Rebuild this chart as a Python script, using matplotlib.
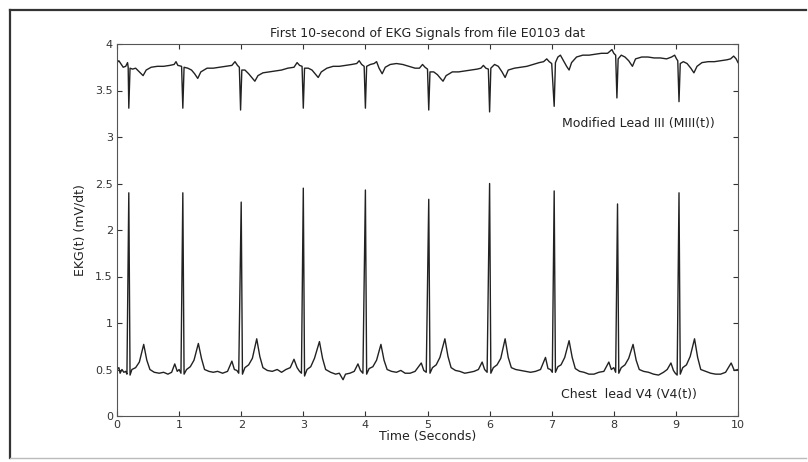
import matplotlib
matplotlib.use("Agg")
import matplotlib.pyplot as plt
from matplotlib.lines import Line2D

plt.rcParams['font.family'] = ['DejaVu Sans']

# Chest lead V4 (time s, mV)
v4_t = [0.00, 0.03, 0.05, 0.08, 0.11, 0.14, 0.16, 0.19, 0.21, 0.24, 0.30, 0.36, 0.43, 0.48, 0.53,
        0.60, 0.68, 0.75, 0.82, 0.88, 0.93, 0.97, 1.00, 1.03, 1.06, 1.08, 1.12, 1.18, 1.24, 1.31,
        1.36, 1.41, 1.48, 1.55, 1.62, 1.70, 1.78, 1.85, 1.89, 1.93, 1.96, 2.00, 2.02, 2.06, 2.12,
        2.18, 2.25, 2.30, 2.35, 2.42, 2.50, 2.58, 2.65, 2.72, 2.79, 2.85, 2.90, 2.94, 2.97, 3.00,
        3.02, 3.06, 3.12, 3.18, 3.26, 3.31, 3.36, 3.44, 3.52, 3.58, 3.64, 3.68, 3.75, 3.82, 3.88,
        3.92, 3.96, 4.00, 4.02, 4.06, 4.12, 4.18, 4.25, 4.30, 4.35, 4.42, 4.50, 4.57, 4.64, 4.72,
        4.80, 4.90, 4.94, 4.98, 5.02, 5.04, 5.08, 5.14, 5.20, 5.28, 5.33, 5.38, 5.45, 5.52, 5.60,
        5.68, 5.75, 5.82, 5.88, 5.92, 5.96, 6.00, 6.02, 6.06, 6.12, 6.18, 6.25, 6.30, 6.35, 6.42,
        6.50, 6.58, 6.66, 6.74, 6.82, 6.90, 6.94, 6.98, 7.01, 7.04, 7.06, 7.10, 7.15, 7.21, 7.28,
        7.33, 7.38, 7.45, 7.52, 7.60, 7.68, 7.76, 7.84, 7.92, 7.96, 8.00, 8.03, 8.06, 8.08, 8.12,
        8.18, 8.24, 8.31, 8.36, 8.41, 8.48, 8.56, 8.64, 8.72, 8.80, 8.86, 8.92, 8.96, 8.99, 9.02,
        9.05, 9.07, 9.11, 9.17, 9.23, 9.30, 9.35, 9.40, 9.48, 9.56, 9.64, 9.72, 9.80, 9.89, 9.94,
        10.00]
v4_v = [0.50, 0.52, 0.46, 0.50, 0.47, 0.48, 0.45, 2.40, 0.44, 0.50, 0.52, 0.58, 0.77, 0.60, 0.50,
        0.47, 0.46, 0.47, 0.45, 0.47, 0.56, 0.48, 0.50, 0.46, 2.40, 0.45, 0.50, 0.53, 0.60, 0.78,
        0.62, 0.50, 0.48, 0.47, 0.48, 0.46, 0.48, 0.59, 0.50, 0.49, 0.46, 2.30, 0.45, 0.52, 0.55,
        0.62, 0.83, 0.64, 0.52, 0.49, 0.48, 0.50, 0.47, 0.50, 0.52, 0.61, 0.52, 0.48, 0.46, 2.45,
        0.43, 0.50, 0.53, 0.62, 0.80, 0.62, 0.50, 0.47, 0.45, 0.46, 0.39, 0.45, 0.46, 0.48, 0.56,
        0.49, 0.46, 2.43, 0.45, 0.51, 0.53, 0.60, 0.77, 0.60, 0.50, 0.48, 0.47, 0.49, 0.46, 0.46,
        0.48, 0.57, 0.49, 0.47, 2.33, 0.46, 0.52, 0.55, 0.63, 0.83, 0.64, 0.52, 0.49, 0.48, 0.46,
        0.47, 0.48, 0.50, 0.58, 0.50, 0.47, 2.50, 0.46, 0.52, 0.55, 0.62, 0.83, 0.63, 0.52, 0.50,
        0.49, 0.48, 0.47, 0.48, 0.50, 0.63, 0.51, 0.50, 0.47, 2.42, 0.47, 0.53, 0.55, 0.63, 0.81,
        0.63, 0.51, 0.48, 0.47, 0.45, 0.45, 0.47, 0.48, 0.58, 0.50, 0.52, 0.47, 2.28, 0.46, 0.52,
        0.55, 0.62, 0.77, 0.60, 0.50, 0.48, 0.47, 0.45, 0.44, 0.47, 0.50, 0.57, 0.49, 0.46, 0.44,
        2.40, 0.45, 0.52, 0.55, 0.64, 0.83, 0.63, 0.50, 0.48, 0.46, 0.45, 0.45, 0.47, 0.57, 0.49,
        0.50]

# Modified lead III (offset trace at the top)
m3_t = [0.00, 0.03, 0.07, 0.10, 0.14, 0.17, 0.18, 0.19, 0.21, 0.25, 0.30, 0.36, 0.42, 0.47, 0.55,
        0.65, 0.75, 0.85, 0.92, 0.95, 0.98, 1.04, 1.06, 1.08, 1.14, 1.20, 1.25, 1.30, 1.35, 1.45,
        1.55, 1.65, 1.75, 1.85, 1.90, 1.94, 1.97, 1.99, 2.01, 2.06, 2.12, 2.17, 2.22, 2.27, 2.35,
        2.45, 2.55, 2.65, 2.75, 2.85, 2.90, 2.94, 2.98, 3.00, 3.02, 3.08, 3.14, 3.19, 3.24, 3.29,
        3.38, 3.48, 3.58, 3.68, 3.78, 3.86, 3.90, 3.94, 3.98, 4.00, 4.02, 4.08, 4.14, 4.18, 4.22,
        4.27, 4.32, 4.40, 4.50, 4.60, 4.70, 4.80, 4.87, 4.92, 4.96, 5.00, 5.02, 5.04, 5.10, 5.16,
        5.21, 5.25, 5.30, 5.40, 5.50, 5.60, 5.70, 5.80, 5.86, 5.90, 5.94, 5.98, 6.00, 6.02, 6.08,
        6.14, 6.20, 6.25, 6.30, 6.40, 6.50, 6.60, 6.70, 6.80, 6.87, 6.92, 6.96, 7.00, 7.04, 7.06,
        7.10, 7.14, 7.19, 7.24, 7.28, 7.32, 7.40, 7.50, 7.60, 7.70, 7.80, 7.90, 7.97, 8.00, 8.03,
        8.05, 8.07, 8.12, 8.18, 8.24, 8.30, 8.35, 8.45, 8.55, 8.65, 8.75, 8.85, 8.93, 8.98, 9.01,
        9.03, 9.05, 9.07, 9.12, 9.18, 9.24, 9.29, 9.34, 9.42, 9.52, 9.62, 9.72, 9.82, 9.88, 9.93,
        9.97, 10.00]
m3_v = [3.80, 3.82, 3.78, 3.75, 3.76, 3.80, 3.75, 3.31, 3.74, 3.73, 3.74, 3.70, 3.66, 3.72, 3.75,
        3.76, 3.76, 3.77, 3.78, 3.81, 3.77, 3.76, 3.31, 3.75, 3.74, 3.72, 3.68, 3.63, 3.70, 3.74,
        3.74, 3.75, 3.76, 3.77, 3.81, 3.77, 3.75, 3.29, 3.72, 3.72, 3.68, 3.64, 3.60, 3.66, 3.69,
        3.70, 3.71, 3.72, 3.74, 3.75, 3.80, 3.77, 3.76, 3.31, 3.74, 3.74, 3.72, 3.68, 3.64, 3.70,
        3.74, 3.76, 3.76, 3.77, 3.78, 3.79, 3.82, 3.78, 3.76, 3.31, 3.76, 3.78, 3.79, 3.81, 3.74,
        3.68, 3.75, 3.78, 3.79, 3.78, 3.76, 3.74, 3.74, 3.78, 3.75, 3.73, 3.29, 3.70, 3.70, 3.67,
        3.63, 3.60, 3.66, 3.70, 3.70, 3.71, 3.72, 3.73, 3.74, 3.77, 3.74, 3.73, 3.27, 3.74, 3.78,
        3.76, 3.70, 3.64, 3.72, 3.74, 3.75, 3.76, 3.78, 3.80, 3.81, 3.84, 3.81, 3.79, 3.33, 3.80,
        3.86, 3.88, 3.82, 3.76, 3.72, 3.80, 3.86, 3.88, 3.88, 3.89, 3.90, 3.90, 3.94, 3.90, 3.88,
        3.42, 3.84, 3.88, 3.86, 3.82, 3.76, 3.84, 3.86, 3.86, 3.85, 3.85, 3.84, 3.86, 3.88, 3.84,
        3.82, 3.38, 3.79, 3.81, 3.79, 3.74, 3.69, 3.76, 3.80, 3.81, 3.81, 3.82, 3.83, 3.84, 3.87,
        3.84, 3.80]

x_ticks = list(range(0, 11))
y_ticks = [0, 0.5, 1, 1.5, 2, 2.5, 3, 3.5, 4]
y_ticklabels = ['0', '0.5', '1', '1.5', '2', '2.5', '3', '3.5', '4']

ink = '#222222'
fs = 9

fig = plt.figure(figsize=(8.08, 4.62), dpi=100)
ax = fig.add_axes([117 / 808, 46 / 462, 621 / 808, 372 / 462])

ax.plot(m3_t, m3_v, color=ink, lw=1.0)
ax.plot(v4_t, v4_v, color=ink, lw=1.0)

ax.set_xlim(0, 10)
ax.set_ylim(0, 4)
ax.set_xticks(x_ticks)
ax.set_yticks(y_ticks)
ax.set_yticklabels(y_ticklabels)
ax.tick_params(direction='in', length=3.5, width=0.8, labelsize=8, colors='#333333',
               top=True, right=True, pad=3)
for side in ax.spines:
    ax.spines[side].set_color('#555555')
    ax.spines[side].set_linewidth(0.8)

ax.set_title('First 10-second of EKG Signals from file E0103 dat', fontsize=fs, color=ink, pad=5)
ax.set_xlabel('Time (Seconds)', fontsize=fs, color=ink, labelpad=0)
ax.set_ylabel('EKG(t) (mV/dt)', fontsize=fs, color=ink, labelpad=6)

ax.text(8.39, 3.15, 'Modified Lead III (MIII(t))', fontsize=fs, color=ink, ha='center', va='center')
ax.text(8.25, 0.23, 'Chest  lead V4 (V4(t))', fontsize=fs, color=ink, ha='center', va='center')

# scanned page border
fig.add_artist(Line2D([10 / 808, 806 / 808], [1 - 10 / 462, 1 - 10 / 462], color='#333333', lw=1.6))
fig.add_artist(Line2D([10 / 808, 10 / 808], [1 - 10 / 462, 4 / 462], color='#333333', lw=1.6))
fig.add_artist(Line2D([10 / 808, 806 / 808], [4 / 462, 4 / 462], color='#bbbbbb', lw=1.0))

fig.savefig('out.png', dpi=100)
